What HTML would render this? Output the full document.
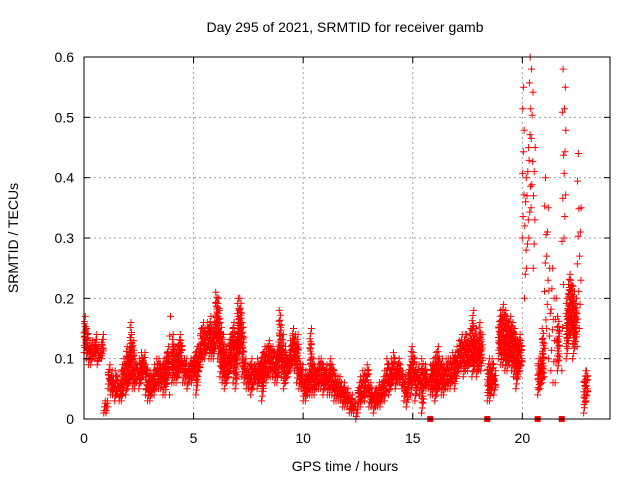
<!DOCTYPE html>
<html><head><meta charset="utf-8">
<style>
html,body{margin:0;padding:0;background:#fff;}
svg{display:block;font-family:"Liberation Sans",sans-serif;}
</style></head>
<body>
<svg id="chart" width="640" height="480" viewBox="0 0 640 480">
<rect width="640" height="480" fill="#fff"/>
<text x="345" y="32" font-size="14" text-anchor="middle">Day 295 of 2021, SRMTID for receiver gamb</text>
<text transform="translate(18,238) rotate(-90)" font-size="14" text-anchor="middle">SRMTID / TECUs</text>
<text x="345" y="471" font-size="14" text-anchor="middle">GPS time / hours</text>
<g id="grid"></g>
<g id="marks"></g>
<g id="axes"></g>
</svg>
<script>
const xTicks=[0,5,10,15,20];
const yTicks=[0,0.1,0.2,0.3,0.4,0.5,0.6];
const yTickLabels=["0","0.1","0.2","0.3","0.4","0.5","0.6"];
const startHour=0, stepHour=0.1;
const lowVals=[
0.11,0.1,0.09,0.09,0.1,0.1,0.09,0.1,0.1,0.01,
0.01,0.05,0.04,0.04,0.03,0.04,0.03,0.03,0.05,0.04,
0.05,0.06,0.05,0.05,0.06,0.05,0.06,0.07,0.04,0.03,
0.03,0.04,0.04,0.05,0.05,0.05,0.04,0.04,0.06,0.04,
0.06,0.06,0.06,0.07,0.08,0.06,0.06,0.05,0.06,0.06,
0.07,0.04,0.07,0.09,0.1,0.1,0.11,0.1,0.1,0.1,
0.12,0.1,0.07,0.06,0.05,0.06,0.07,0.08,0.06,0.05,
0.1,0.11,0.07,0.06,0.05,0.05,0.04,0.05,0.06,0.05,
0.06,0.03,0.06,0.06,0.07,0.07,0.07,0.06,0.06,0.09,
0.07,0.05,0.06,0.07,0.08,0.09,0.08,0.06,0.05,0.05,
0.03,0.03,0.04,0.04,0.04,0.04,0.05,0.05,0.05,0.04,
0.05,0.04,0.04,0.04,0.03,0.03,0.03,0.03,0.02,0.02,
0.02,0.01,0.01,0.01,0,0.02,0.02,0.03,0.03,0.04,
0.02,0.02,0.01,0.02,0.02,0.02,0.03,0.03,0.05,0.04,
0.05,0.06,0.05,0.06,0.06,0.05,0.03,0.02,0.05,0.04,
0.06,0.03,0.05,0.04,0.01,0.05,0.05,0.05,0.04,0.04,
0.03,0.04,0.05,0.04,0.04,0.05,0.05,0.05,0.06,0.05,
0.07,0.08,0.08,0.07,0.08,0.08,0.09,0.07,0.08,0.07,
0.08,0.08,null,null,0.03,0.03,0.05,0.04,null,0.1,
0.09,0.09,0.08,0.08,0.09,0.08,0.07,0.05,0.07,0.08,
0.3,0.2,0.25,0.3,0.35,0.25,null,0.04,0.05,0.06,
0.07,0.15,0.1,0.08,0.06,0.06,0.08,null,0.08,0.3,
0.1,0.13,0.14,0.1,0.12,0.12,0.15,null,0.01,0.03];
const highVals=[
0.17,0.15,0.13,0.13,0.12,0.14,0.12,0.11,0.14,0.03,
0.03,0.09,0.08,0.07,0.08,0.07,0.06,0.09,0.1,0.12,
0.12,0.16,0.13,0.1,0.09,0.1,0.11,0.11,0.09,0.08,
0.08,0.08,0.09,0.1,0.1,0.09,0.1,0.11,0.12,0.17,
0.14,0.12,0.12,0.14,0.13,0.1,0.1,0.09,0.1,0.1,
0.11,0.12,0.12,0.15,0.16,0.15,0.16,0.17,0.15,0.16,
0.21,0.2,0.16,0.14,0.12,0.11,0.14,0.15,0.16,0.14,
0.2,0.2,0.16,0.1,0.09,0.09,0.1,0.09,0.09,0.1,
0.1,0.11,0.12,0.12,0.13,0.12,0.12,0.11,0.12,0.18,
0.14,0.12,0.11,0.11,0.13,0.15,0.14,0.14,0.1,0.09,
0.07,0.08,0.08,0.15,0.1,0.09,0.09,0.1,0.1,0.09,
0.09,0.08,0.1,0.09,0.08,0.07,0.07,0.06,0.06,0.05,
0.05,0.04,0.04,0.03,0.02,0.06,0.07,0.08,0.08,0.09,
0.06,0.05,0.05,0.05,0.06,0.06,0.07,0.08,0.1,0.09,
0.1,0.11,0.09,0.1,0.09,0.08,0.07,0.06,0.09,0.12,
0.11,0.09,0.09,0.08,0.1,0.09,0.08,0.07,0.09,0.1,
0.11,0.12,0.1,0.1,0.09,0.1,0.1,0.1,0.11,0.11,
0.12,0.13,0.14,0.14,0.14,0.13,0.15,0.18,0.15,0.13,
0.16,0.14,null,null,0.1,0.09,0.1,0.08,null,0.17,
0.18,0.19,0.18,0.17,0.17,0.16,0.15,0.14,0.14,0.13,
0.55,0.4,0.45,0.6,0.58,0.45,null,0.1,0.1,0.15,
0.4,0.35,0.25,0.25,0.2,0.2,0.17,null,0.58,0.55,
0.2,0.24,0.23,0.22,0.2,0.44,0.35,null,0.08,0.08];
const flagHours=[15.8,18.4,20.7,21.8];

const L=84,R=610,T=57,B=419,xMax=24,yMax=0.6;
const sx=h=>L+(R-L)*h/xMax;
const sy=v=>B-(B-T)*v/yMax;
const NS="http://www.w3.org/2000/svg";
function mk(tag,parent){const e=document.createElementNS(NS,tag);parent.appendChild(e);return e;}
const grid=document.getElementById('grid'),marks=document.getElementById('marks'),axes=document.getElementById('axes');

xTicks.forEach(t=>{
  if(t>0){const g=mk('line',grid);
  
  
  g.setAttribute('x1',sx(t));g.setAttribute('x2',sx(t));g.setAttribute('y1',T);g.setAttribute('y2',B);
  g.setAttribute('stroke','#a0a0a0');g.setAttribute('stroke-dasharray','2,3');}
  const tl=mk('text',axes);
  
  
  tl.setAttribute('x',sx(t));tl.setAttribute('y',B+24);tl.setAttribute('font-size','14');tl.setAttribute('text-anchor','middle');
  tl.textContent=t;
  [[B,B-6],[T,T+6]].forEach(p=>{const k=mk('line',axes);
  
  
  k.setAttribute('x1',sx(t));k.setAttribute('x2',sx(t));k.setAttribute('y1',p[0]);k.setAttribute('y2',p[1]);k.setAttribute('stroke','#000');});
});
yTicks.forEach((v,i)=>{
  if(v>0&&v<yMax){const g=mk('line',grid);
  
  
  g.setAttribute('x1',L);g.setAttribute('x2',R);g.setAttribute('y1',sy(v));g.setAttribute('y2',sy(v));
  g.setAttribute('stroke','#a0a0a0');g.setAttribute('stroke-dasharray','2,3');}
  const tl=mk('text',axes);
  
  
  tl.setAttribute('x',L-10);tl.setAttribute('y',sy(v)+5);tl.setAttribute('font-size','14');tl.setAttribute('text-anchor','end');
  tl.textContent=yTickLabels[i];
  [[L,L+6],[R,R-6]].forEach(p=>{const k=mk('line',axes);
  
  
  k.setAttribute('x1',p[0]);k.setAttribute('x2',p[1]);k.setAttribute('y1',sy(v));k.setAttribute('y2',sy(v));k.setAttribute('stroke','#000');});
});
const frame=mk('rect',axes);


frame.setAttribute('x',L);frame.setAttribute('y',T);frame.setAttribute('width',R-L);frame.setAttribute('height',B-T);
frame.setAttribute('fill','none');frame.setAttribute('stroke','#000');

let d='';
function plus(x,y){d+=`M${(x-3.5).toFixed(1)} ${y.toFixed(1)}h7M${x.toFixed(1)} ${(y-3.5).toFixed(1)}v7`;}
lowVals.forEach((lo,i)=>{
  const hi=highVals[i];
  if(lo===null||hi===null)return;
  const h=startHour+i*stepHour;
  const x0=sx(h),x1=sx(h+stepHour);
  const y0=sy(lo),y1=sy(hi);
  const span=Math.abs(y0-y1);
  const tall=hi-lo>0.12;
  const n=tall?Math.min(7,Math.max(3,Math.round(span/22))):Math.max(2,Math.round(span/5));
  for(let k=0;k<=n;k++){
    const f=k/n;
    const x=x0+(x1-x0)*((k*0.37)%1);
    plus(x,y0+(y1-y0)*f);
    if(!tall) plus(x0+(x1-x0)*((k*0.71+0.2)%1),y0+(y1-y0)*((f*0.6+0.2)));
  }
});
const p=mk('path',marks);


p.setAttribute('d',d);p.setAttribute('stroke','#ff0000');p.setAttribute('stroke-width','1');p.setAttribute('fill','none');
flagHours.forEach(h=>{const r=mk('rect',marks);
  
  
  r.setAttribute('x',sx(h)-3);r.setAttribute('y',B-3);r.setAttribute('width',6);r.setAttribute('height',6);r.setAttribute('fill','#ff0000');});
</script>
</body></html>
